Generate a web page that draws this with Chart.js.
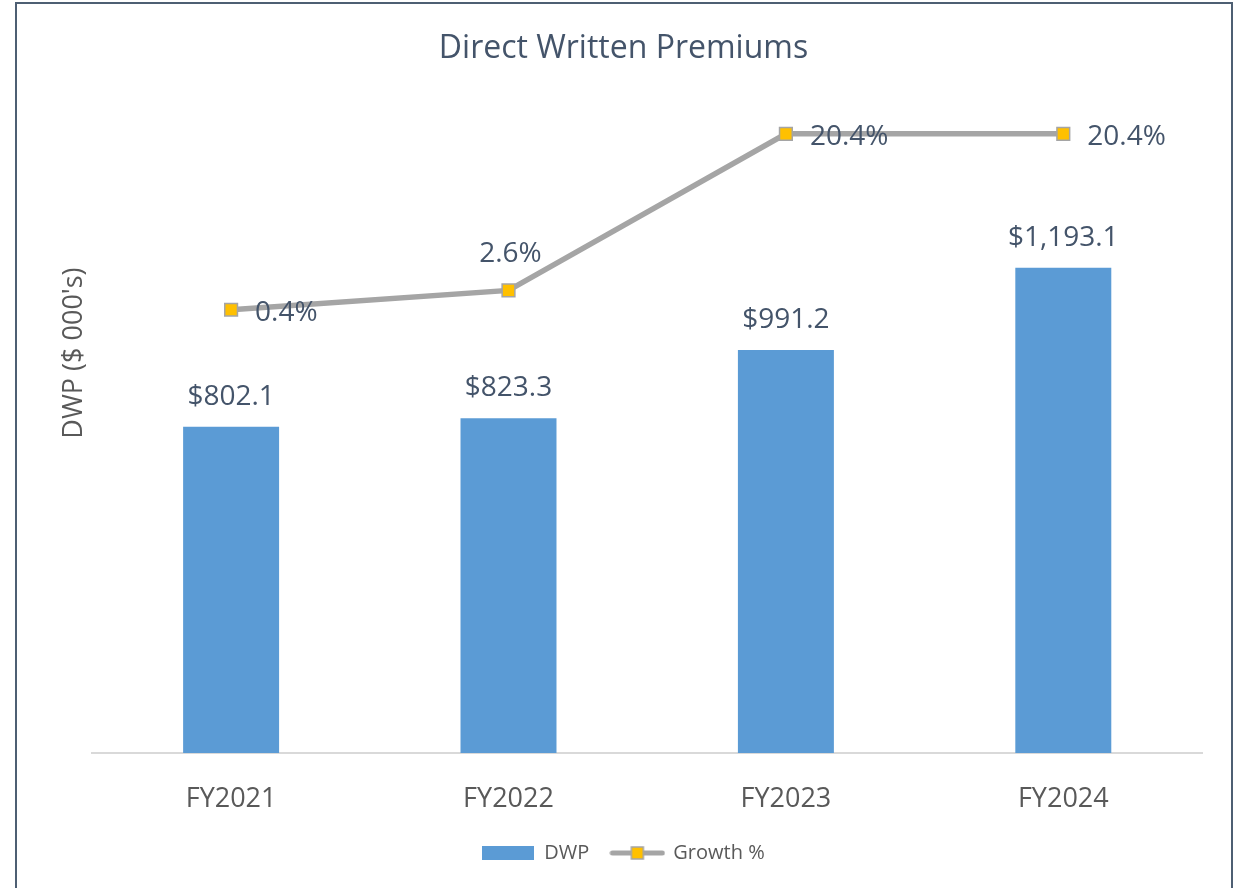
<!DOCTYPE html>
<html>
<head>
<meta charset="utf-8">
<script src="https://cdn.jsdelivr.net/npm/chart.js@4.4.1/dist/chart.umd.min.js"></script>
<style>
  body { margin: 0; background: #fff; }
  #wrap { position: relative; width: 1241px; height: 888px; overflow: hidden; }
  #frame {
    position: absolute; left: 15px; top: 2px; width: 1218px; height: 920px;
    box-sizing: border-box; border: 2px solid #4E5F73; pointer-events: none;
  }
</style>
</head>
<body>
<div id="wrap">
  <canvas id="dwpChart" width="1241" height="888"></canvas>
  <div id="frame"></div>
</div>
<script>
const years = ['FY2021', 'FY2022', 'FY2023', 'FY2024']
const dwp = [802.1, 823.3, 991.2, 1193.1]
const growth = [0.4, 2.6, 20.4, 20.4]

const FONT = "'Open Sans'"
const SLATE = '#44546A'
const GREY_TEXT = '#595959'
const BLUE = '#5B9BD5'
const LINE_GREY = '#A5A5A5'
const GOLD = '#FFC000'

// legend symbols drawn once on small canvases
const makeBarSymbol = () => {
    const c = document.createElement('canvas')
    c.width = 52
    c.height = 14
    const g = c.getContext('2d')
    g.fillStyle = BLUE
    g.fillRect(0, 0, 52, 14)
    return c
}

const makeLineSymbol = () => {
    const c = document.createElement('canvas')
    c.width = 56
    c.height = 14
    const g = c.getContext('2d')
    g.strokeStyle = LINE_GREY
    g.lineWidth = 5
    g.lineCap = 'round'
    g.beginPath()
    g.moveTo(3, 7)
    g.lineTo(53, 7)
    g.stroke()
    g.fillStyle = GOLD
    g.fillRect(22, 1, 12, 12)
    g.lineWidth = 1.5
    g.strokeRect(22, 1, 12, 12)
    return c
}

const legendSymbols = [makeBarSymbol(), makeLineSymbol()]

// where each growth label sits relative to its point
const growthLabelSide = ['right', 'top', 'right', 'right']

const valueLabels = {
    id: 'valueLabels',
    afterDatasetsDraw(chart) {
        const ctx = chart.ctx
        ctx.save()
        ctx.font = `28px ${FONT}`
        ctx.fillStyle = SLATE

        const barMeta = chart.getDatasetMeta(0)
        ctx.textAlign = 'center'
        ctx.textBaseline = 'middle'
        barMeta.data.forEach((el, i) => {
            const txt = '$' + dwp[i].toLocaleString('en-US', { minimumFractionDigits: 1, maximumFractionDigits: 1 })
            ctx.fillText(txt, el.x, el.y - 30)
        })

        const lineMeta = chart.getDatasetMeta(1)
        lineMeta.data.forEach((el, i) => {
            const txt = growth[i].toFixed(1) + '%'
            if (growthLabelSide[i] === 'top') {
                ctx.textAlign = 'center'
                ctx.fillText(txt, el.x + 2, el.y - 36)
            } else {
                ctx.textAlign = 'left'
                ctx.fillText(txt, el.x + 24, el.y + 3)
            }
        })
        ctx.restore()
    },
}

new Chart(document.getElementById('dwpChart'), {
    type: 'bar',
    data: {
        labels: years,
        datasets: [
            {
                type: 'bar',
                label: 'DWP',
                data: dwp,
                backgroundColor: BLUE,
                categoryPercentage: 1,
                barPercentage: 0.346,
                yAxisID: 'y',
                order: 2,
            },
            {
                type: 'line',
                label: 'Growth %',
                data: growth,
                borderColor: LINE_GREY,
                borderWidth: 5.5,
                pointStyle: 'rect',
                pointRadius: 9,
                pointBackgroundColor: GOLD,
                pointBorderColor: LINE_GREY,
                pointBorderWidth: 1.5,
                tension: 0,
                yAxisID: 'y1',
                order: 1,
            },
        ],
    },
    plugins: [valueLabels],
    options: {
        responsive: false,
        devicePixelRatio: 1,
        animation: false,
        layout: {
            padding: { top: 0, left: 45, right: 39, bottom: 15 },
        },
        plugins: {
            tooltip: { enabled: false },
            title: {
                display: true,
                text: 'Direct Written Premiums',
                color: SLATE,
                font: { family: FONT, size: 32, weight: 'normal' },
                padding: { top: 30, bottom: 25 },
            },
            legend: {
                position: 'bottom',
                labels: {
                    usePointStyle: true,
                    pointStyleWidth: 52,
                    boxHeight: 14,
                    padding: 22,
                    color: GREY_TEXT,
                    font: { family: FONT, size: 20 },
                    sort: (a, b) => a.datasetIndex - b.datasetIndex,
                    generateLabels(chart) {
                        const items = Chart.defaults.plugins.legend.labels.generateLabels(chart)
                        items.forEach((item) => {
                            item.pointStyle = legendSymbols[item.datasetIndex]
                        })
                        return items
                    },
                },
            },
        },
        scales: {
            x: {
                grid: { display: false, drawTicks: false },
                border: { display: true, color: '#D9D9D9', width: 2 },
                ticks: {
                    color: GREY_TEXT,
                    font: { family: FONT, size: 27 },
                    padding: 30,
                },
                afterFit(scale) {
                    scale.height = 68
                },
            },
            y: {
                position: 'left',
                min: 0,
                max: 1622,
                grid: { display: false, drawTicks: false },
                border: { display: false },
                ticks: { display: false },
                title: {
                    display: true,
                    text: "                    DWP ($ 000's)",
                    color: GREY_TEXT,
                    font: { family: FONT, size: 27 },
                    padding: { top: 13, bottom: 2 },
                },
            },
            y1: {
                display: false,
                position: 'right',
                min: -50,
                max: 25,
                grid: { display: false, drawTicks: false },
            },
        },
    },
})
</script>
</body>
</html>
